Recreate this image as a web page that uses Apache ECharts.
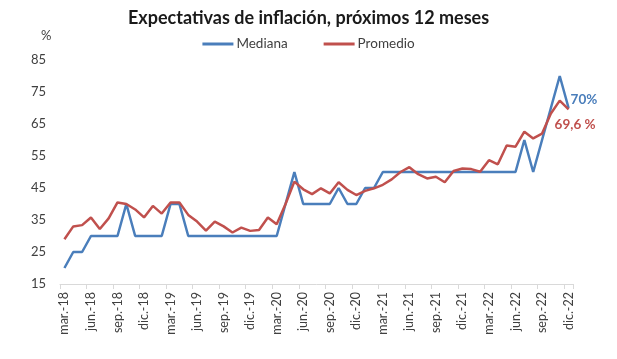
<!DOCTYPE html>
<html>
<head>
<meta charset="utf-8">
<script src="https://cdn.jsdelivr.net/npm/echarts@6/dist/echarts.min.js"></script>
<style>
html,body{margin:0;padding:0;background:#fff;}
#chart{width:617px;height:359px;}
</style>
</head>
<body>
<div id="chart"></div>
<script>
var categories = [
  'mar.-18','abr.-18','may.-18','jun.-18','jul.-18','ago.-18','sep.-18','oct.-18','nov.-18','dic.-18',
  'ene.-19','feb.-19','mar.-19','abr.-19','may.-19','jun.-19','jul.-19','ago.-19','sep.-19','oct.-19','nov.-19','dic.-19',
  'ene.-20','feb.-20','mar.-20','abr.-20','may.-20','jun.-20','jul.-20','ago.-20','sep.-20','oct.-20','nov.-20','dic.-20',
  'ene.-21','feb.-21','mar.-21','abr.-21','may.-21','jun.-21','jul.-21','ago.-21','sep.-21','oct.-21','nov.-21','dic.-21',
  'ene.-22','feb.-22','mar.-22','abr.-22','may.-22','jun.-22','jul.-22','ago.-22','sep.-22','oct.-22','nov.-22','dic.-22'
];
var mediana = [
  20,25,25,30,30,30,30,40,30,30,
  30,30,40,40,30,30,30,30,30,30,30,30,
  30,30,30,40,50,40,40,40,40,45,40,40,
  45,45,50,50,50,50,50,50,50,50,50,50,
  50,50,50,50,50,50,60,50,60,70,80,70
];
var promedio = [
  29,33,33.4,35.8,32.2,35.5,40.5,40,38.3,35.8,
  39.4,37,40.5,40.5,36.6,34.5,31.7,34.5,33,31.1,32.6,31.6,
  31.9,35.8,33.7,40,47,44.6,43.1,44.9,43.3,46.8,44.4,42.8,
  44.1,44.9,46,47.7,50,51.5,49.3,48,48.5,46.8,50.3,51.1,
  50.9,50.1,53.7,52.4,58.3,57.9,62.6,60.5,62,68.3,72.3,69.6
];
var yTicks = {min: 15, max: 85, interval: 10};
var lastLabels = {mediana: '70%', promedio: '69,6 %'};

var BLUE = '#4A7EBB', RED = '#C0504D';
var FONT = 'Lato';

var chart = echarts.init(document.getElementById('chart'), null, {renderer: 'canvas'});
chart.setOption({
  animation: false,
  backgroundColor: '#fff',
  title: [
    {text: 'Expectativas de inflación, próximos 12 meses', left: 'center', top: 4,
     textStyle: {fontFamily: FONT, fontWeight: 'bold', fontSize: 18, color: '#1a1a1a'}},
    {text: '%', left: 36, top: 24, textStyle: {fontFamily: FONT, fontWeight: 'normal', fontSize: 13, color: '#404040'}}
  ],
  legend: {
    top: 32, left: 'center',
    itemWidth: 31, itemHeight: 3, itemGap: 36,
    icon: 'rect',
    textStyle: {fontFamily: FONT, fontSize: 13.5, color: '#404040', padding: [0,0,0,-2]},
    data: ['Mediana', 'Promedio']
  },
  grid: {left: 60, right: 44, top: 60, bottom: 75, containLabel: false},
  xAxis: {
    type: 'category', data: categories, boundaryGap: true,
    axisLine: {lineStyle: {color: '#D9D9D9', width: 1}},
    axisTick: {show: true, interval: 2, length: 5, lineStyle: {color: '#D9D9D9'}},
    axisLabel: {interval: 2, rotate: 90, fontFamily: FONT, fontSize: 12.5, color: '#404040', margin: 8}
  },
  yAxis: {
    type: 'value', min: yTicks.min, max: yTicks.max, interval: yTicks.interval,
    axisLine: {show: false}, axisTick: {show: false},
    splitLine: {show: false},
    axisLabel: {fontFamily: FONT, fontSize: 13, color: '#404040', margin: 14}
  },
  series: [
    {name: 'Mediana', type: 'line', data: mediana,
     showSymbol: false, symbol: 'none', lineStyle: {color: BLUE, width: 2.5}, itemStyle: {color: BLUE}, z: 2,
     endLabel: {show: true, formatter: lastLabels.mediana, color: BLUE, fontWeight: 'bold', fontSize: 13.5,
                fontFamily: FONT, distance: 2, offset: [0, -8]}},
    {name: 'Promedio', type: 'line', data: promedio,
     showSymbol: false, symbol: 'none', lineStyle: {color: RED, width: 2.5}, itemStyle: {color: RED}, z: 3,
     endLabel: {show: true, formatter: lastLabels.promedio, color: RED, fontWeight: 'bold', fontSize: 13.5,
                fontFamily: FONT, distance: 2, offset: [-16, 15]}}
  ]
});
</script>
</body>
</html>
